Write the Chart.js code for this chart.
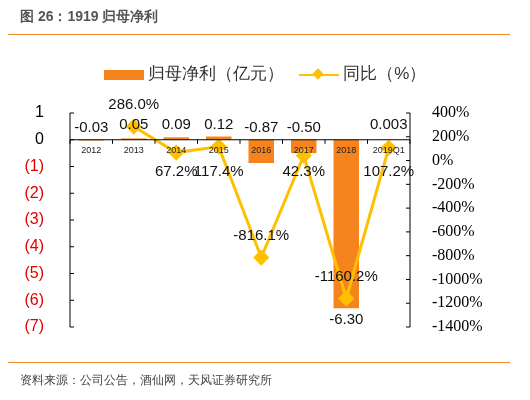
<!DOCTYPE html><html><head><meta charset="utf-8">
<script src="https://cdn.jsdelivr.net/npm/chart.js@4"></script>
<style>body{margin:0;width:530px;height:400px;background:#fff;font-family:"Liberation Sans",Arial,sans-serif;position:relative;overflow:hidden}
#t{position:absolute;left:20px;top:8px;font-size:14px;font-weight:bold;color:#555}
#hl{position:absolute;left:8px;right:20px;top:34px;border-top:1.5px solid #F08A24}
#lg{position:absolute;left:0;width:530px;top:62px;text-align:center;font-size:17px;color:#333}
#src{position:absolute;left:20px;top:372px;font-size:12px;color:#444}
#sl{position:absolute;left:8px;right:20px;top:362px;border-top:1px solid #F08A24}
canvas{position:absolute;left:0;top:0}</style></head><body>
<canvas id="c" width="530" height="400"></canvas>
<div id="t">图 26：1919 归母净利</div><div id="hl"></div>
<div id="lg"><span style="display:inline-block;width:40px;height:10px;background:#F5841F;vertical-align:middle"></span> 归母净利（亿元）&nbsp;&nbsp;&nbsp;<span style="display:inline-block;width:40px;vertical-align:middle;position:relative;height:10px"><span style="position:absolute;left:0;right:0;top:4px;border-top:2px solid #FFC000"></span><span style="position:absolute;left:15px;top:0;width:8px;height:8px;background:#FFC000;transform:rotate(45deg)"></span></span> 同比（%）</div>
<div id="sl"></div><div id="src">资料来源：公司公告，酒仙网，天风证券研究所</div>
<script>
const categories=["2012","2013","2014","2015","2016","2017","2018","2019Q1"];
const profit=[-0.03,0.05,0.09,0.12,-0.87,-0.50,-6.30,0.003];
const profitLabels=["-0.03","0.05","0.09","0.12","-0.87","-0.50","-6.30","0.003"];
const growth=[null,286.0,67.2,117.4,-816.1,42.3,-1160.2,107.2];
const growthLabels=[null,"286.0%","67.2%","117.4%","-816.1%","42.3%","-1160.2%","107.2%"];
const growthAbove=[false,true,false,false,true,false,true,false];
const plug={id:'p',afterDatasetsDraw(ch){const c=ch.ctx,a=ch.chartArea,x=ch.scales.x,y=ch.scales.y,y2=ch.scales.y2;
c.save();c.strokeStyle='#000';c.lineWidth=1;const z=y.getPixelForValue(0);
c.beginPath();c.moveTo(a.left,z);c.lineTo(a.right,z);c.stroke();
c.beginPath();c.moveTo(a.left,a.top);c.lineTo(a.left,a.bottom);c.moveTo(a.right,a.top);c.lineTo(a.right,a.bottom);c.stroke();
for(let v=1;v>=-7;v--){const p=y.getPixelForValue(v);c.beginPath();c.moveTo(a.left,p);c.lineTo(a.left+4,p);c.stroke();}
for(let v=400;v>=-1400;v-=200){const p=y2.getPixelForValue(v);c.beginPath();c.moveTo(a.right,p);c.lineTo(a.right-4,p);c.stroke();}
const w=(a.right-a.left)/categories.length;
for(let i=0;i<=categories.length;i++){const px=a.left+i*w;c.beginPath();c.moveTo(px,z);c.lineTo(px,z+4);c.stroke();}
c.fillStyle='#222';c.textAlign='center';c.font='9px "Liberation Sans"';c.textBaseline='top';
categories.forEach((k,i)=>c.fillText(k,x.getPixelForValue(i),z+6));
c.font='15px "Liberation Sans"';c.textBaseline='middle';c.fillStyle='#111';
profit.forEach((v,i)=>{const px=x.getPixelForValue(i);if(i==6){c.fillText(profitLabels[i],px,y.getPixelForValue(v)+12);}else c.fillText(profitLabels[i],px,y.getPixelForValue(v>0?0.55:0.45));});
growth.forEach((v,i)=>{if(v==null)return;const px=x.getPixelForValue(i);const py=growthAbove[i]?y2.getPixelForValue(v)-22:y.getPixelForValue(-1.2);c.fillText(growthLabels[i],px,py);});
c.restore();}};
new Chart(document.getElementById('c'),{data:{labels:categories,datasets:[
{type:'line',data:growth,yAxisID:'y2',borderColor:'#FFC000',backgroundColor:'#FFC000',borderWidth:3,pointStyle:'rectRot',pointRadius:6,tension:0,spanGaps:false},
{type:'bar',data:profit,yAxisID:'y',backgroundColor:'#F5841F',categoryPercentage:0.6,barPercentage:1}]},
options:{responsive:false,animation:false,events:[],layout:{padding:{top:113,bottom:73}},
plugins:{legend:{display:false},tooltip:{enabled:false}},
scales:{x:{display:false},
y:{position:'left',min:-7,max:1,afterFit:s=>{s.width=70},grid:{display:false},border:{display:false},ticks:{stepSize:1,padding:18,font:{size:16,family:'Liberation Sans'},color:c=>c.tick.value<0?'#E00000':'#000',callback:v=>v<0?'('+(-v)+')':v}},
y2:{position:'right',min:-1400,max:400,afterFit:s=>{s.width=120},grid:{display:false},border:{display:false},ticks:{stepSize:200,padding:14,font:{size:16,family:'Liberation Serif'},color:'#000',callback:v=>v+'%'}}}},
plugins:[plug]});
</script></body></html>
